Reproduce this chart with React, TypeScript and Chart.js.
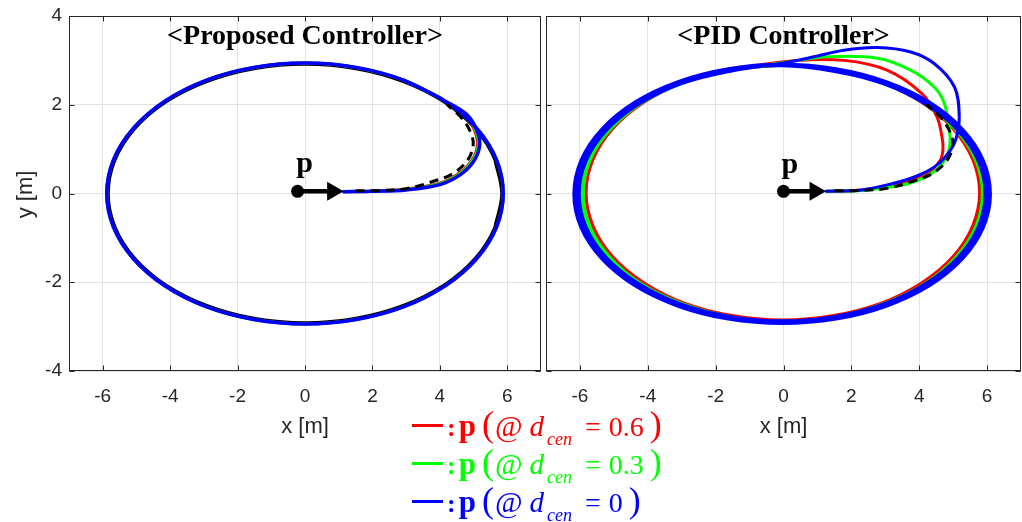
import React, { useEffect, useRef } from "react";
import { Chart, registerables } from "chart.js";

Chart.register(...registerables);

// ---------- axes ----------
const xTickValues = [-6, -4, -2, 0, 2, 4, 6];
const yTickValues = [-4, -2, 0, 2, 4];
const xLimits = [-7, 7];
const yLimits = [-4, 4];

// ---------- texts ----------
const panelTitles = ["<Proposed Controller>", "<PID Controller>"];
const xAxisTitle = "x [m]";
const yAxisTitle = "y [m]";
const legendValues = ["0.6", "0.3", "0"];
const seriesColors = ["#ff0000", "#00ff00", "#0000ff"];

// ---------- marker "p" (left panel, right panel) ----------
const markerDotX = [-0.22, 0.0];
const markerHeadX = [0.82, 0.93];
const markerY = [0.05, 0.05];
const pLabelX = [-0.01, 0.19];
const pLabelY = [0.48, 0.46];

// ---------- reference path (black) ----------
const refX = [5.62, 5.82, 5.62, 5.04, 4.12, 2.91, 1.51, 0, -1.51, -2.91, -4.12, -5.04, -5.62, -5.82, -5.62, -5.04, -4.12, -2.91, -1.51, 0, 1.51, 2.91, 4.12, 5.04, 5.62, 5.82, 5.62];
const refY = [-0.75, 0, 0.75, 1.45, 2.05, 2.51, 2.8, 2.9, 2.8, 2.51, 2.05, 1.45, 0.75, 0, -0.75, -1.45, -2.05, -2.51, -2.8, -2.9, -2.8, -2.51, -2.05, -1.45, -0.75, 0, 0.75];
const refApproachX = [1.5, 2.2, 3.01, 3.79, 4.39, 4.84, 4.99, 4.9, 4.66, 4.21];
const refApproachY = [0.06, 0.07, 0.11, 0.27, 0.45, 0.77, 1.11, 1.4, 1.69, 2.01];

// ---------- proposed controller (left) ----------
const leftRedApproachX = [1.15, 2.0, 3.0, 4.0, 4.56, 4.95, 5.11, 5.03, 4.75];
const leftRedApproachY = [0.04, 0.05, 0.1, 0.23, 0.45, 0.75, 1.08, 1.42, 1.76];
const leftGreenApproachX = [1.15, 2.0, 3.0, 4.0, 4.58, 4.97, 5.14, 5.06, 4.77];
const leftGreenApproachY = [0.04, 0.05, 0.09, 0.22, 0.44, 0.74, 1.08, 1.42, 1.77];
const leftBlueApproachX = [1.15, 2.0, 3.0, 4.0, 4.6, 5.0, 5.18, 5.1, 4.8];
const leftBlueApproachY = [0.04, 0.05, 0.08, 0.2, 0.42, 0.72, 1.08, 1.42, 1.78];
const leftOrbitX = [4.16, 2.94, 1.52, 0, -1.52, -2.94, -4.16, -5.09, -5.68, -5.88, -5.68, -5.09, -4.16, -2.94, -1.52, 0, 1.52, 2.94, 4.16, 5.09, 5.68, 5.88, 5.68, 5.09, 4.16, 2.94];
const leftOrbitY = [2.08, 2.55, 2.84, 2.94, 2.84, 2.55, 2.08, 1.47, 0.76, 0, -0.76, -1.47, -2.08, -2.55, -2.84, -2.94, -2.84, -2.55, -2.08, -1.47, -0.76, 0, 0.76, 1.47, 2.08, 2.55];

// ---------- PID controller (right) ----------
const rightRedApproachX = [1.26, 2.3, 3.45, 4.23, 4.62, 4.7, 4.67, 4.52, 4.08, 3.05, 1.78, 0.3];
const rightRedApproachY = [0.05, 0.08, 0.22, 0.45, 0.75, 1.0, 1.28, 1.73, 2.25, 2.78, 3.0, 2.99];
const rightRedOrbitX = [-1.52, -2.92, -4.12, -5.04, -5.62, -5.82, -5.62, -5.04, -4.12, -2.92, -1.52, -0.02, 1.48, 2.88, 4.08, 5.0, 5.58, 5.78, 5.58, 5.0, 4.08, 2.88, 1.48, -0.02, -1.52];
const rightRedOrbitY = [2.79, 2.51, 2.05, 1.46, 0.76, 0.02, -0.72, -1.42, -2.01, -2.47, -2.75, -2.85, -2.75, -2.47, -2.01, -1.42, -0.72, 0.02, 0.76, 1.46, 2.05, 2.51, 2.79, 2.89, 2.79];

const rightGreenApproachX = [1.26, 2.3, 3.0, 3.66, 4.2, 4.6, 4.84, 4.91, 4.89, 4.74, 4.44, 3.75, 2.77, 1.28, 0.2];
const rightGreenApproachY = [0.05, 0.07, 0.13, 0.22, 0.38, 0.6, 0.9, 1.15, 1.43, 2.03, 2.4, 2.78, 3.05, 3.08, 2.97];
const rightGreenLoop1X = [-1.54, -2.96, -4.18, -5.11, -5.7, -5.9, -5.7, -5.11, -4.18, -2.96, -1.54, -0.02, 1.5, 2.92, 4.14, 5.07, 5.66, 5.86, 5.66, 5.07, 4.14, 2.92, 1.5];
const rightGreenLoop1Y = [2.78, 2.49, 2.04, 1.44, 0.75, 0, -0.75, -1.44, -2.04, -2.49, -2.78, -2.88, -2.78, -2.49, -2.04, -1.44, -0.75, 0, 0.75, 1.44, 2.04, 2.49, 2.78];
const rightGreenLoop2X = [-0.02, -1.56, -2.99, -4.21, -5.16, -5.75, -5.95, -5.75, -5.16, -4.21, -2.99, -1.56, -0.02, 1.52, 2.95, 4.17, 5.12, 5.71, 5.91, 5.71, 5.12, 4.17, 2.95, 1.52, -0.02, -1.56];
const rightGreenLoop2Y = [2.89, 2.79, 2.5, 2.04, 1.44, 0.74, -0.01, -0.76, -1.46, -2.06, -2.52, -2.81, -2.91, -2.81, -2.52, -2.06, -1.46, -0.76, -0.01, 0.74, 1.44, 2.04, 2.5, 2.79, 2.89, 2.79];

const rightBlueApproachX = [1.26, 2.3, 3.25, 3.95, 4.45, 4.8, 5.07, 5.18, 5.04, 4.44, 3.75, 2.77, 1.78, 0.89, 0.0];
const rightBlueApproachY = [0.05, 0.08, 0.23, 0.4, 0.6, 0.85, 1.2, 1.73, 2.4, 2.93, 3.19, 3.29, 3.23, 3.08, 2.94];
const rightBlueLoop1X = [-1.59, -3.03, -4.27, -5.22, -5.82, -6.02, -5.82, -5.22, -4.27, -3.03, -1.59, -0.04, 1.51, 2.95, 4.19, 5.14, 5.74, 5.94, 5.74, 5.14, 4.19, 2.95, 1.51];
const rightBlueLoop1Y = [2.75, 2.47, 2.01, 1.42, 0.73, -0.01, -0.75, -1.44, -2.03, -2.49, -2.77, -2.87, -2.77, -2.49, -2.03, -1.44, -0.75, -0.01, 0.73, 1.42, 2.01, 2.47, 2.75];
const rightBlueLoop2X = [-0.04, -1.61, -3.07, -4.33, -5.29, -5.89, -6.1, -5.89, -5.29, -4.33, -3.07, -1.61, -0.04, 1.53, 2.99, 4.25, 5.21, 5.81, 6.02, 5.81, 5.21, 4.25, 2.99, 1.53];
const rightBlueLoop2Y = [2.88, 2.78, 2.49, 2.03, 1.44, 0.74, -0.01, -0.76, -1.46, -2.05, -2.51, -2.8, -2.9, -2.8, -2.51, -2.05, -1.46, -0.76, -0.01, 0.74, 1.44, 2.03, 2.49, 2.78];
const rightBlueLoop3X = [-0.04, -1.63, -3.11, -4.38, -5.36, -5.97, -6.18, -5.97, -5.36, -4.38, -3.11, -1.63, -0.04, 1.55, 3.03, 4.3, 5.28, 5.89, 6.1, 5.89, 5.28, 4.3, 3.03, 1.55, -0.04, -1.63];
const rightBlueLoop3Y = [2.91, 2.81, 2.52, 2.06, 1.45, 0.75, -0.01, -0.77, -1.47, -2.08, -2.54, -2.83, -2.93, -2.83, -2.54, -2.08, -1.47, -0.77, -0.01, 0.75, 1.45, 2.06, 2.52, 2.81, 2.91, 2.81];

// ---------- helpers ----------
function pts(xs: number[], ys: number[]) {
  const n = Math.min(xs.length, ys.length);
  const out: { x: number; y: number }[] = [];
  for (let i = 0; i < n; i++) out.push({ x: xs[i], y: ys[i] });
  return out;
}

function curve(data: any[], color: string, width: number, dash: number[] = [], tension = 0.35) {
  return {
    type: "scatter",
    data,
    showLine: true,
    borderColor: color,
    backgroundColor: color,
    borderWidth: width,
    borderDash: dash,
    borderCapStyle: dash.length ? "butt" : "round",
    borderJoinStyle: "round",
    pointRadius: 0,
    pointHoverRadius: 0,
    tension,
  };
}

function markerSets(i: number) {
  const dot = { x: markerDotX[i], y: markerY[i] };
  const head = { x: markerHeadX[i], y: markerY[i] };
  return [
    { type: "scatter", data: [dot], showLine: false, pointRadius: 6.5, pointHoverRadius: 6.5, backgroundColor: "#000", borderWidth: 0 },
    { type: "scatter", data: [head], showLine: false, pointStyle: "triangle", pointRotation: 90, pointRadius: 11, pointHoverRadius: 11, backgroundColor: "#000", borderWidth: 0 },
    curve([dot, head], "#000", 4.5, [], 0),
  ];
}

function leftDatasets() {
  return [
    ...markerSets(0),
    curve(pts(refApproachX, refApproachY), "#000", 3, [9, 6]),
    curve(pts([...leftBlueApproachX, ...leftOrbitX], [...leftBlueApproachY, ...leftOrbitY]), seriesColors[2], 3.5),
    curve(pts([...leftGreenApproachX, ...leftOrbitX], [...leftGreenApproachY, ...leftOrbitY]), seriesColors[1], 3),
    curve(pts([...leftRedApproachX, ...leftOrbitX], [...leftRedApproachY, ...leftOrbitY]), seriesColors[0], 3),
    curve(pts(refX, refY), "#000", 2),
  ];
}

function rightDatasets() {
  return [
    ...markerSets(1),
    curve(pts(refApproachX, refApproachY), "#000", 3, [9, 6]),
    curve(
      pts(
        [...rightBlueApproachX, ...rightBlueLoop1X, ...rightBlueLoop2X, ...rightBlueLoop3X],
        [...rightBlueApproachY, ...rightBlueLoop1Y, ...rightBlueLoop2Y, ...rightBlueLoop3Y]
      ),
      seriesColors[2],
      3
    ),
    curve(
      pts([...rightGreenApproachX, ...rightGreenLoop1X, ...rightGreenLoop2X], [...rightGreenApproachY, ...rightGreenLoop1Y, ...rightGreenLoop2Y]),
      seriesColors[1],
      3
    ),
    curve(pts([...rightRedApproachX, ...rightRedOrbitX], [...rightRedApproachY, ...rightRedOrbitY]), seriesColors[0], 3),
    curve(pts(refX, refY), "#000", 2),
  ];
}

const AXIS_COLOR = "#262626";
const GRID_COLOR = "#e2e2e2";
const SANS = '"Liberation Sans", Arial, sans-serif';
const SERIF = '"Liberation Serif", "Times New Roman", serif';

const decoPlugin = {
  id: "deco",
  afterDraw(chart: any, _args: any, opts: any) {
    const { ctx, chartArea: ca, scales } = chart;
    const xs = scales.x;
    const ys = scales.y;
    const L = Math.round(ca.left) + 0.5;
    const T = Math.round(ca.top) + 0.5;
    const R = Math.round(ca.right) - 0.5;
    const B = Math.round(ca.bottom) - 0.5;
    ctx.save();
    ctx.strokeStyle = AXIS_COLOR;
    ctx.lineWidth = 1;
    ctx.beginPath();
    xTickValues.forEach((v) => {
      const px = Math.round(xs.getPixelForValue(v)) + 0.5;
      ctx.moveTo(px, B);
      ctx.lineTo(px, B - 5);
      ctx.moveTo(px, T);
      ctx.lineTo(px, T + 5);
    });
    yTickValues.forEach((v) => {
      const py = Math.round(ys.getPixelForValue(v)) + 0.5;
      ctx.moveTo(L, py);
      ctx.lineTo(L + 5, py);
      ctx.moveTo(R, py);
      ctx.lineTo(R - 5, py);
    });
    ctx.stroke();
    ctx.strokeRect(L, T, R - L, B - T);

    const cx = (ca.left + ca.right) / 2;
    // panel title
    ctx.fillStyle = "#000";
    ctx.textAlign = "center";
    ctx.textBaseline = "alphabetic";
    ctx.font = `bold 28px ${SERIF}`;
    ctx.fillText(opts.title, cx, ca.top + opts.titleOffset);
    // p label
    ctx.font = `bold 30px ${SERIF}`;
    ctx.fillText("p", xs.getPixelForValue(pLabelX[opts.idx]), ys.getPixelForValue(pLabelY[opts.idx]));
    // axis titles
    ctx.fillStyle = AXIS_COLOR;
    ctx.font = `22px ${SANS}`;
    ctx.textBaseline = "middle";
    ctx.fillText(xAxisTitle, cx, ca.bottom + 56);
    if (opts.yTitle) {
      ctx.translate(ca.left - 43, (ca.top + ca.bottom) / 2 + 1);
      ctx.rotate(-Math.PI / 2);
      ctx.fillText(yAxisTitle, 0, 0);
    }
    ctx.restore();
  },
};

function makeChart(canvas: HTMLCanvasElement, idx: number) {
  const isLeft = idx === 0;
  return new Chart(canvas, {
    type: "scatter",
    data: { datasets: (isLeft ? leftDatasets() : rightDatasets()) as any },
    options: {
      animation: false,
      responsive: false,
      maintainAspectRatio: false,
      events: [],
      layout: { autoPadding: false, padding: { left: isLeft ? 0 : 3, right: isLeft ? 2 : 1, top: 16, bottom: 0 } },
      plugins: {
        legend: { display: false },
        tooltip: { enabled: false },
        deco: { title: panelTitles[idx], titleOffset: 28, idx, yTitle: isLeft },
      } as any,
      scales: {
        x: {
          type: "linear",
          position: "bottom",
          min: xLimits[0],
          max: xLimits[1],
          afterBuildTicks: (s: any) => {
            s.ticks = xTickValues.map((v) => ({ value: v }));
          },
          afterFit: (s: any) => {
            s.height = 69;
            s.paddingLeft = 0;
            s.paddingRight = 0;
          },
          grid: { color: GRID_COLOR, drawTicks: false, lineWidth: 1 },
          border: { display: false },
          ticks: { color: AXIS_COLOR, font: { family: SANS, size: 19 }, padding: 14, maxRotation: 0, autoSkip: false },
        },
        y: {
          type: "linear",
          position: "left",
          min: yLimits[0],
          max: yLimits[1],
          afterBuildTicks: (s: any) => {
            s.ticks = yTickValues.map((v) => ({ value: v }));
          },
          afterFit: (s: any) => {
            s.width = isLeft ? 69 : 0;
            s.paddingTop = 0;
            s.paddingBottom = 0;
          },
          grid: { color: GRID_COLOR, drawTicks: false, lineWidth: 1 },
          border: { display: false },
          ticks: { display: isLeft, color: AXIS_COLOR, font: { family: SANS, size: 19 }, padding: 7, autoSkip: false },
        },
      },
    } as any,
    plugins: [decoPlugin as any],
  });
}

const legendBaselines = [436, 474, 512];

function LegendRow({ idx }: { idx: number }) {
  const color = seriesColors[idx];
  const base = legendBaselines[idx];
  return (
    <>
      <div style={{ position: "absolute", left: 412, top: base - 12.5, width: 31, height: 3, background: color }} />
      <div
        style={{
          position: "absolute",
          left: 447,
          top: base - 34,
          whiteSpace: "nowrap",
          fontFamily: SERIF,
          color,
          fontSize: 28,
          lineHeight: "44px",
        }}
      >
        <span style={{ fontWeight: "bold", fontSize: 26 }}>:</span>
        <span style={{ fontWeight: "bold", fontSize: 31, marginLeft: 3 }}>p</span>
        <span style={{ fontSize: 36, marginLeft: 6 }}>(</span>
        <span style={{ fontSize: 30, marginLeft: 1 }}>@</span>
        <span style={{ fontStyle: "italic", fontSize: 29, marginLeft: 7 }}>d</span>
        <span style={{ fontStyle: "italic", fontSize: 18, marginLeft: 3, position: "relative", top: 9 }}>cen</span>
        <span style={{ fontSize: 28, marginLeft: 13 }}>=</span>
        <span style={{ fontSize: 28, marginLeft: 8 }}>{legendValues[idx]}</span>
        <span style={{ fontSize: 36, marginLeft: 6 }}>)</span>
      </div>
    </>
  );
}

export default function App() {
  const leftRef = useRef<HTMLCanvasElement | null>(null);
  const rightRef = useRef<HTMLCanvasElement | null>(null);

  useEffect(() => {
    const charts: Chart[] = [];
    if (leftRef.current) charts.push(makeChart(leftRef.current, 0));
    if (rightRef.current) charts.push(makeChart(rightRef.current, 1));
    return () => charts.forEach((c) => c.destroy());
  }, []);

  return (
    <div style={{ position: "absolute", left: 0, top: 0, width: 1022, height: 522, background: "#fff", overflow: "hidden" }}>
      <canvas ref={leftRef} width={543} height={440} style={{ position: "absolute", left: 0, top: 0, width: 543, height: 440 }} />
      <canvas ref={rightRef} width={479} height={440} style={{ position: "absolute", left: 543, top: 0, width: 479, height: 440 }} />
      {legendValues.map((_, i) => (
        <LegendRow key={i} idx={i} />
      ))}
    </div>
  );
}
